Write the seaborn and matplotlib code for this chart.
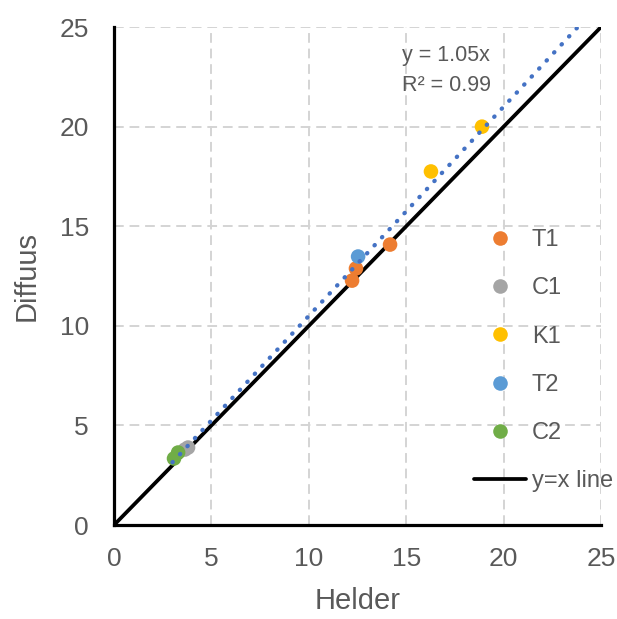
import numpy as np
import pandas as pd
import matplotlib
matplotlib.use("Agg")
import matplotlib.pyplot as plt
import seaborn as sns
from matplotlib.lines import Line2D

# Measurements per sample: clear-sky (Helder) vs diffuse (Diffuus)
groups = ["T1", "T1", "T1", "C1", "C1", "K1", "K1", "T2", "C2", "C2"]
helder = [14.17, 12.42, 12.22, 3.64, 3.80, 16.27, 18.89, 12.53, 3.08, 3.29]
diffuus = [14.08, 12.88, 12.27, 3.79, 3.89, 17.75, 20.00, 13.48, 3.34, 3.64]

series_order = ["T1", "C1", "K1", "T2", "C2"]
series_colors = ["#ED7D31", "#A5A5A5", "#FFC000", "#5B9BD5", "#70AD47"]

# Linear fit through the origin
slope = 1.05
r_squared = 0.99
ticks = [0, 5, 10, 15, 20, 25]

df = pd.DataFrame({"Helder": helder, "Diffuus": diffuus, "groep": groups})

sns.set_theme(style="white")
plt.rcParams["font.family"] = ["Liberation Sans", "DejaVu Sans"]
text_color = "#595959"

fig = plt.figure(figsize=(6.17, 6.19), dpi=100)
ax = fig.add_axes([0.1848, 0.1518, 0.7893, 0.8045])

ax.set_xlim(0, 25)
ax.set_ylim(0, 25)
ax.set_xticks(ticks)
ax.set_yticks(ticks)
ax.grid(True, color="#D4D4D4", linestyle=(0, (5, 3)), linewidth=1.4)
ax.set_axisbelow(True)

# reference line y = x
ax.plot([0, 25], [0, 25], color="black", linewidth=2.7, zorder=2)

# trendline (extended forward to the edge of the plot)
xt = np.array([3.0, 25.0])
ax.plot(xt, slope * xt, color="#4472C4", linewidth=3.1,
        linestyle=(0, (0.1, 2.45)), dash_capstyle="round", zorder=4)

sns.scatterplot(data=df, x="Helder", y="Diffuus", hue="groep",
                hue_order=series_order, palette=series_colors,
                s=110, edgecolor="none", linewidth=0, ax=ax, zorder=3,
                legend=False)

ax.text(14.8, 23.55, f"y = {slope:.2f}x", fontsize=15.5, color=text_color,
        va="center", ha="left")
ax.text(14.8, 22.05, f"R² = {r_squared:.2f}", fontsize=15.5, color=text_color,
        va="center", ha="left")

for side in ["top", "right"]:
    ax.spines[side].set_visible(False)
for side in ["left", "bottom"]:
    ax.spines[side].set_color("black")
    ax.spines[side].set_linewidth(2.3)

ax.tick_params(axis="both", length=0, labelsize=19, colors=text_color)
ax.tick_params(axis="y", pad=18)
ax.tick_params(axis="x", pad=16)

ax.set_xlabel("Helder", fontsize=21, color=text_color)
ax.set_ylabel("Diffuus", fontsize=21, color=text_color)
ax.xaxis.set_label_coords(0.5, -0.125)
ax.yaxis.set_label_coords(-0.15, 0.5)

handles = [Line2D([], [], linestyle="none", marker="o", markersize=10.5,
                  markerfacecolor=c, markeredgecolor="none")
           for c in series_colors]
handles.append(Line2D([], [], color="black", linewidth=2.7))
labels = series_order + ["y=x line"]
leg = ax.legend(handles, labels, loc="upper left",
                bbox_to_anchor=(0.72, 0.613), frameon=False, fontsize=17,
                labelspacing=1.11, handlelength=2.2, handletextpad=0.25,
                borderaxespad=0)
for t in leg.get_texts():
    t.set_color(text_color)

fig.savefig("out.png", dpi=100)
